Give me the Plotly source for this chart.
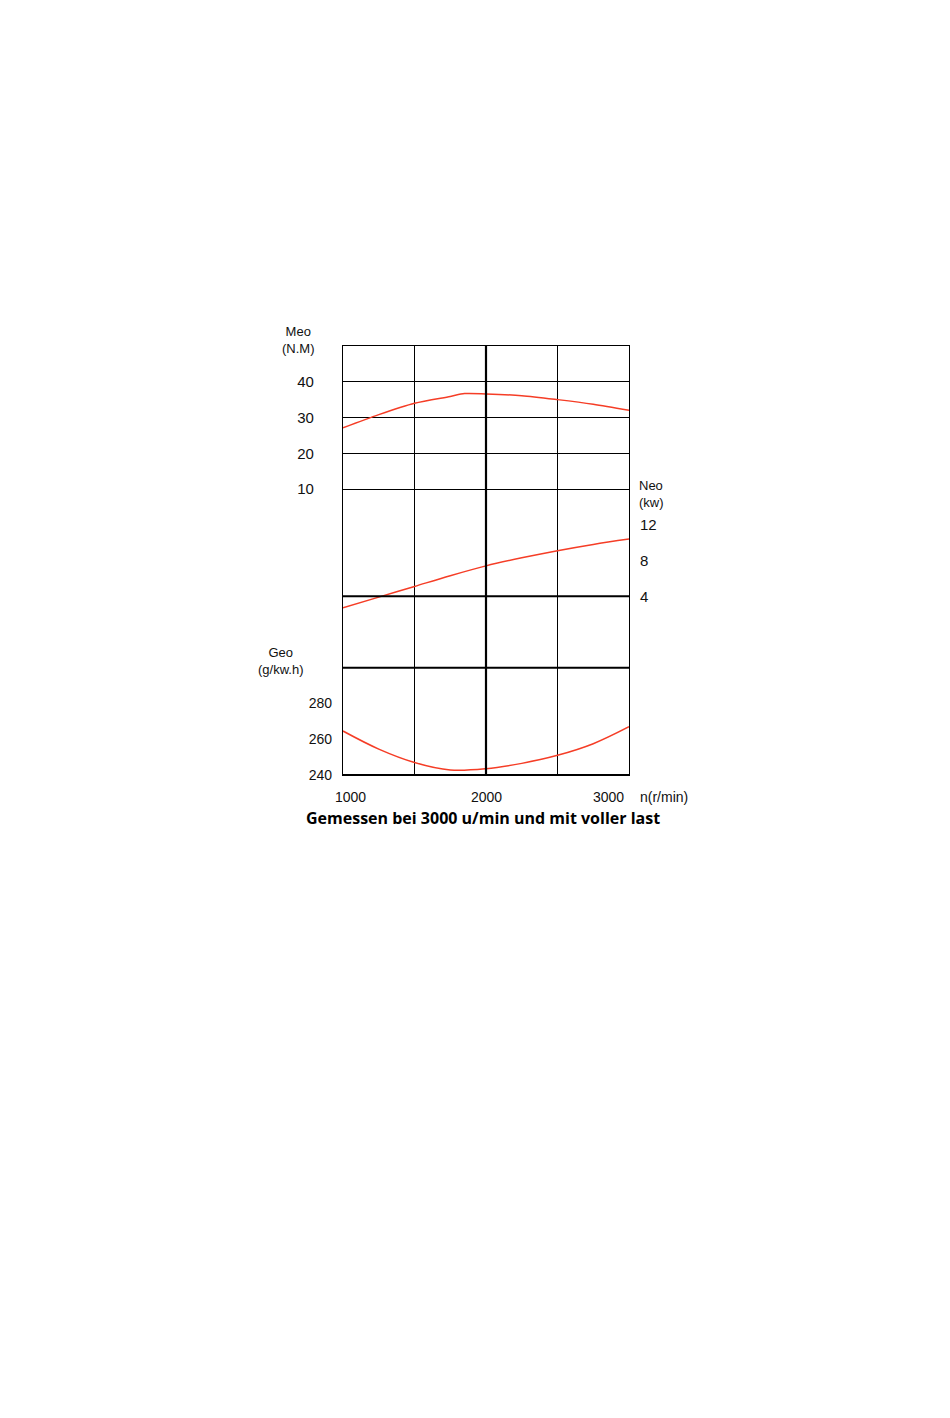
import plotly.graph_objects as go

# --- data ---
rpm_meo = [1000, 1250, 1500, 1750, 1850, 2000, 2250, 2500, 2750, 3000]
meo_nm = [27.1, 30.8, 34.0, 35.9, 36.7, 36.6, 36.1, 35.0, 33.7, 32.0]

rpm_neo = [1000, 1250, 1500, 1750, 2000, 2250, 2500, 2750, 3000]
neo_kw = [2.7, 3.9, 5.1, 6.3, 7.4, 8.3, 9.1, 9.8, 10.4]

rpm_geo = [1000, 1250, 1500, 1750, 2000, 2250, 2500, 2750, 3000]
geo_gkwh = [264.6, 254.5, 247.0, 242.8, 243.5, 246.5, 251.0, 257.5, 267.0]

meo_ticks = [10, 20, 30, 40]
neo_ticks = [4, 8, 12]
geo_ticks = [240, 260, 280]
x_ticks = [1000, 2000, 3000]
x_tick_labels = ["1000", "2000", "3000"]

caption = "Gemessen bei 3000 u/min und mit voller last"

FONT = "Liberation Sans, Arial, sans-serif"
RED = "#f53d26"

fig = go.Figure()
fig.add_trace(go.Scatter(x=rpm_meo, y=meo_nm, mode="lines", yaxis="y",
                         line=dict(color=RED, width=1.5, shape="spline", smoothing=0.8),
                         name="Meo", hoverinfo="skip"))
fig.add_trace(go.Scatter(x=rpm_neo, y=neo_kw, mode="lines", yaxis="y2",
                         line=dict(color=RED, width=1.5, shape="spline", smoothing=1.0),
                         name="Neo", hoverinfo="skip"))
fig.add_trace(go.Scatter(x=rpm_geo, y=geo_gkwh, mode="lines", yaxis="y3",
                         line=dict(color=RED, width=1.5, shape="spline", smoothing=1.0),
                         name="Geo", hoverinfo="skip"))

fig.update_layout(
    width=950, height=1418,
    margin=dict(l=335, r=329, t=338, b=651, pad=0),
    paper_bgcolor="white", plot_bgcolor="white",
    showlegend=False,
    font=dict(family=FONT, size=14, color="#111"),
    xaxis=dict(range=[1000, 3000], dtick=500, tick0=1000, showgrid=True,
               gridcolor="black", gridwidth=1.2, showticklabels=False, ticks="",
               showline=True, linecolor="black", linewidth=1.2, mirror=True,
               zeroline=False, fixedrange=True),
    yaxis=dict(range=[-70, 50], dtick=10, tick0=0, showgrid=True,
               gridcolor="black", gridwidth=1.2, tickvals=meo_ticks,
               ticks="", ticklabelstandoff=25, showline=True, linecolor="black",
               linewidth=1.2, mirror=True, zeroline=False, fixedrange=True,
               tickfont=dict(family=FONT, size=15)),
    yaxis2=dict(range=[-16, 32], overlaying="y", side="right", tickvals=neo_ticks,
                showgrid=False, zeroline=False, ticks="", ticklabelstandoff=10,
                showline=False, fixedrange=True, tickfont=dict(family=FONT, size=15)),
    yaxis3=dict(range=[240, 480], overlaying="y", side="left", tickvals=geo_ticks,
                showgrid=False, zeroline=False, ticks="", ticklabelstandoff=10,
                showline=False, fixedrange=True, tickfont=dict(family=FONT, size=14)),
)

# thicker grid lines (style of the original grid)
thick = dict(color="black", width=2.2)
fig.add_shape(type="line", xref="paper", yref="y", x0=0, x1=1, y0=-20, y1=-20, line=thick)
fig.add_shape(type="line", xref="paper", yref="y", x0=0, x1=1, y0=-40, y1=-40, line=thick)
fig.add_shape(type="line", xref="paper", yref="y", x0=0, x1=1, y0=-70, y1=-70, line=thick)
fig.add_shape(type="line", xref="x", yref="paper", x0=2000, x1=2000, y0=0, y1=1, line=thick)

# x tick labels
anchors = ["center", "center", "right"]
shifts = [7, 0, -3]
for v, t, a, s in zip(x_ticks, x_tick_labels, anchors, shifts):
    fig.add_annotation(x=v, y=0, xref="x", yref="paper", text=t, showarrow=False,
                       xanchor=a, yanchor="top", xshift=s, yshift=-12,
                       font=dict(family=FONT, size=14))

# unit labels
fig.add_annotation(x=0, y=1, xref="paper", yref="paper", text="Meo<br>(N.M)",
                   showarrow=False, xanchor="center", yanchor="bottom",
                   xshift=-45, yshift=-12, align="center",
                   font=dict(family=FONT, size=13))
fig.add_annotation(x=1, y=(774 - 493) / 429, xref="paper", yref="paper",
                   text="Neo<br>(kw)", showarrow=False, xanchor="left",
                   yanchor="middle", xshift=8, align="left",
                   font=dict(family=FONT, size=13))
fig.add_annotation(x=0, y=(774 - 660) / 429, xref="paper", yref="paper",
                   text="Geo<br>(g/kw.h)", showarrow=False, xanchor="center",
                   yanchor="middle", xshift=-62, align="center",
                   font=dict(family=FONT, size=13))
fig.add_annotation(x=1, y=0, xref="paper", yref="paper", text="n(r/min)",
                   showarrow=False, xanchor="left", yanchor="top",
                   xshift=9, yshift=-12, font=dict(family=FONT, size=14))
fig.add_annotation(x=0.49, y=0, xref="paper", yref="paper",
                   text="<b>" + caption + "</b>", showarrow=False,
                   xanchor="center", yanchor="top", yshift=-30,
                   font=dict(family="Open Sans, Noto Sans, sans-serif", size=16, color="black"))

fig.write_html("out.html")
